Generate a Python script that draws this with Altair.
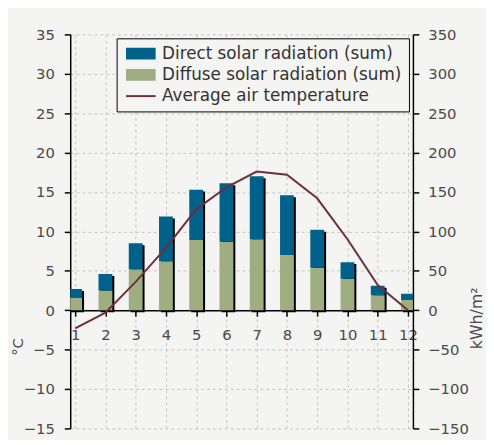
import altair as alt
import pandas as pd

months = [1, 2, 3, 4, 5, 6, 7, 8, 9, 10, 11, 12]
diffuse = [16, 25, 52, 62, 89, 87, 90, 70, 54, 40, 19, 13]
direct = [11, 21, 33, 57, 64, 74, 80, 76, 48, 21, 12, 8]
temperature = [-2.3, -0.3, 3.6, 7.9, 12.8, 15.6, 17.6, 17.2, 14.2, 9.0, 3.2, 0.0]

series_names = ["Direct solar radiation (sum)", "Diffuse solar radiation (sum)", "Average air temperature"]
series_colors = ["#00628a", "#9fae80", "#6d2f3e"]

temp_ticks = list(range(-15, 36, 5))
rad_ticks = list(range(-150, 351, 50))

df = pd.DataFrame({
    "month": months,
    "diffuse": diffuse,
    "direct": direct,
    "temp": temperature,
})
df["total"] = df["diffuse"] + df["direct"]
legend_df = pd.DataFrame({"series": series_names})

FONT = "DejaVu Sans"
TXT = "#4a4a4a"
GRID = "#c6c6c6"
BG = "#f4f4f2"

W, H = 347, 399
zero_offset = -H * 15 / 50

RECT = "M-0.833,-0.833H3.833V0.833H-0.833Z"
STROKE = "M-1,0H4"

legend = alt.Legend(
    title=None,
    orient="none",
    legendX=47,
    legendY=4,
    padding=7,
    strokeColor="black",
    fillColor=BG,
    labelFont=FONT,
    labelFontSize=17,
    labelColor="#333333",
    labelLimit=400,
    symbolSize=144,
    symbolStrokeWidth=2,
    symbolOpacity=1,
    labelOffset=22,
    rowPadding=2.5,
)

x_enc = alt.X(
    "month:Q",
    scale=alt.Scale(domain=[1, 12], nice=False, zero=False),
    axis=alt.Axis(
        values=months,
        title=None,
        grid=True,
        gridDash=[3, 3],
        gridColor=GRID,
        offset=zero_offset,
        labelFlush=False,
        labelOverlap=False,
        labelPadding=12,
        tickSize=6,
    ),
)

rad_axis = alt.Axis(
    orient="right",
    values=rad_ticks,
    grid=False,
    title="kWh/m²",
    titleAngle=270,
    titleX=64,
    titleY=287,
    titleBaseline="middle",
    titleAlign="center",
    labelPadding=9,
    labelOverlap=False,
    labelFlush=False,
)
rad_scale = alt.Scale(domain=[-150, 350], nice=False, zero=False)

shadow = alt.Chart(df).mark_bar(size=14, color="black", xOffset=2, yOffset=2, clip=True).encode(
    x=x_enc,
    y=alt.Y("total:Q", scale=rad_scale, axis=rad_axis),
)

diff_bar = alt.Chart(df).mark_bar(size=14, clip=True, color=series_colors[1]).encode(
    x=x_enc,
    y=alt.Y("diffuse:Q", scale=rad_scale, axis=rad_axis),
)

dir_bar = alt.Chart(df).mark_bar(size=14, clip=True, color=series_colors[0]).encode(
    x=x_enc,
    y=alt.Y("diffuse:Q", scale=rad_scale, axis=rad_axis),
    y2="total:Q",
)

legend_layer = alt.Chart(legend_df).transform_filter("false").mark_point(filled=True, strokeWidth=2).encode(
    fill=alt.Fill("series:N", scale=alt.Scale(domain=series_names, range=series_colors), legend=legend),
    stroke=alt.Stroke("series:N", scale=alt.Scale(domain=series_names, range=series_colors), legend=legend),
    shape=alt.Shape("series:N", scale=alt.Scale(domain=series_names, range=[RECT, RECT, STROKE]), legend=legend),
)

bars = alt.layer(shadow, diff_bar, dir_bar, legend_layer)

line = alt.Chart(df).mark_line(strokeWidth=2, clip=True, color=series_colors[2]).encode(
    x=x_enc,
    y=alt.Y(
        "temp:Q",
        scale=alt.Scale(domain=[-15, 35], nice=False, zero=False),
        axis=alt.Axis(
            orient="left",
            values=temp_ticks,
            grid=True,
            gridDash=[3, 3],
            gridColor=GRID,
            title="°C",
            titleAngle=270,
            titleX=-53,
            titleY=316,
            titleFontSize=15,
            titleBaseline="middle",
            titleAlign="center",
            labelPadding=10,
            labelOverlap=False,
            labelFlush=False,
        ),
    ),
)

chart = alt.layer(bars, line).resolve_scale(y="independent").properties(
    width=W,
    height=H,
    autosize=alt.AutoSizeParams(type="none"),
    padding={"left": 63, "top": 24, "right": 74, "bottom": 9},
    background=BG,
).configure_view(stroke=None).configure_axis(
    labelFont=FONT,
    labelFontSize=15,
    labelColor=TXT,
    titleFont=FONT,
    titleFontSize=16,
    titleColor=TXT,
    titleFontWeight="normal",
    domainColor="black",
    domainWidth=1.5,
    tickColor="black",
    tickWidth=1.5,
    tickSize=6,
)

chart.save("out.html", embed_options={"renderer": "svg", "actions": False})
